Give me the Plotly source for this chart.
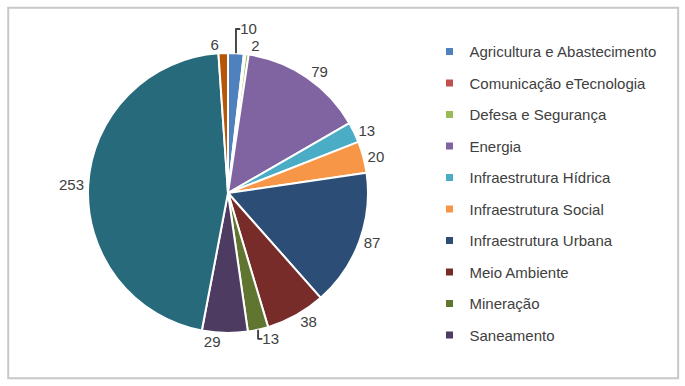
import plotly.graph_objects as go

categories = ["Agricultura e Abastecimento", "Comunicação eTecnologia", "Defesa e Segurança",
              "Energia", "Infraestrutura Hídrica", "Infraestrutura Social",
              "Infraestrutura Urbana", "Meio Ambiente", "Mineração", "Saneamento",
              "Transportes", "Turismo"]
values = [10, 1, 2, 79, 13, 20, 87, 38, 13, 29, 253, 6]
colors = ["#4F81BD", "#C0504D", "#9BBB59", "#8064A2", "#4BACC6", "#F79646",
          "#2C4D75", "#772C2A", "#5F7530", "#4D3B62", "#276A7C", "#B65708"]
legend_count = 10  # only the first ten entries appear in the legend
# label of the 1-value slice is hidden under its neighbours in the reference
text_positions = ["outside", "inside"] + ["outside"] * 10

W, H = 685, 386
cx, cy, r = 228, 193, 140

fig = go.Figure()
fig.add_trace(go.Pie(
    labels=categories, values=values, sort=False, direction="clockwise", rotation=0,
    marker=dict(colors=colors, line=dict(color="white", width=2)),
    textinfo="value", textposition=text_positions,
    textfont=dict(family="Liberation Sans", size=15, color="#404040"),
    showlegend=False, hoverinfo="label+value",
    domain=dict(x=[(cx - r) / W, (cx + r) / W], y=[(H - cy - r) / H, (H - cy + r) / H]),
))

for i in range(legend_count):
    fig.add_trace(go.Scatter(
        x=[None], y=[None], mode="markers", name=categories[i],
        legendgroup=str(i),
        marker=dict(symbol="square", size=7, color=colors[i]),
    ))

fig.update_layout(
    width=W, height=H,
    margin=dict(l=0, r=0, t=0, b=0),
    paper_bgcolor="white", plot_bgcolor="white",
    uniformtext=dict(minsize=12, mode="hide"),
    xaxis=dict(visible=False), yaxis=dict(visible=False),
    legend=dict(x=0.627, y=0.909, xanchor="left", yanchor="top",
                font=dict(family="Liberation Sans", size=15, color="#404040"),
                tracegroupgap=9, itemwidth=30, bgcolor="rgba(0,0,0,0)"),
    shapes=[dict(type="rect", xref="paper", yref="paper", x0=0.012, x1=0.99, y0=0.02, y1=0.98,
                 line=dict(color="#c8c8c8", width=2), fillcolor="rgba(0,0,0,0)", layer="below")],
)

fig.write_html("out.html", config={"displayModeBar": False},
               post_script="document.body.style.margin='0';")
